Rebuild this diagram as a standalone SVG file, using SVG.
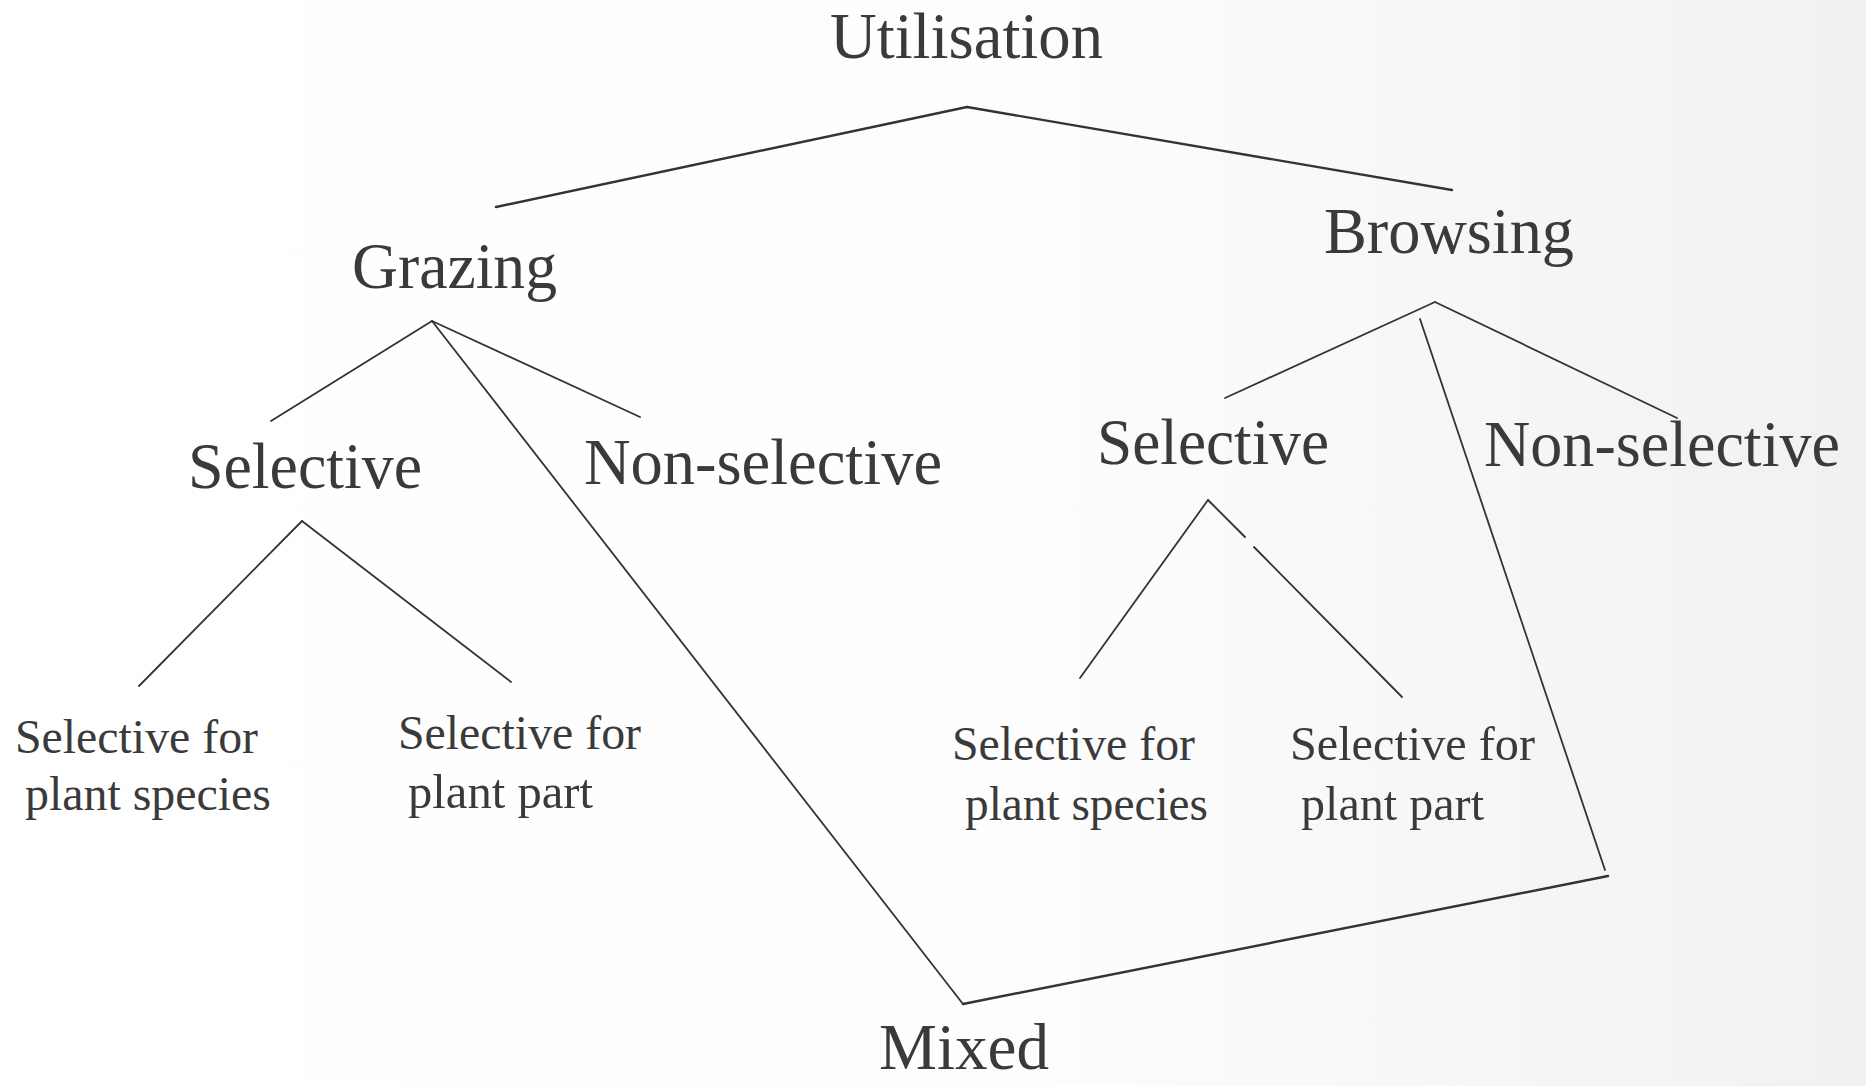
<svg xmlns="http://www.w3.org/2000/svg" width="1866" height="1086" viewBox="0 0 1866 1086">
<defs>
<linearGradient id="bg" x1="0" y1="0" x2="1" y2="0">
<stop offset="0" stop-color="#ffffff"/>
<stop offset="0.55" stop-color="#fdfdfd"/>
<stop offset="1" stop-color="#f1f1f1"/>
</linearGradient>
</defs>
<style>
text{font-family:"Liberation Serif","Times New Roman",serif;fill:#3a3a3a}
.big{font-size:65px}
.leaf{font-size:48px}
#connectors line{stroke:#333;stroke-width:1.8;fill:none;stroke-linecap:round}
#connectors .thick{stroke-width:2.4}
</style>
<rect width="1866" height="1086" fill="url(#bg)"/>
<g id="connectors">
<line class="thick" x1="967" y1="107" x2="496" y2="207"/>
<line class="thick" x1="967" y1="107" x2="1452" y2="190"/>
<line x1="432" y1="321" x2="271" y2="421"/>
<line x1="432" y1="321" x2="640" y2="417"/>
<line x1="432" y1="321" x2="963" y2="1004"/>
<line x1="302" y1="521" x2="139" y2="686"/>
<line x1="302" y1="521" x2="511" y2="682"/>
<line x1="1435" y1="302" x2="1225" y2="398"/>
<line x1="1435" y1="302" x2="1677" y2="418"/>
<line x1="1420" y1="319" x2="1605" y2="870"/>
<line class="thick" x1="963" y1="1004" x2="1608" y2="876"/>
<line x1="1208" y1="500" x2="1080" y2="678"/>
<line x1="1208" y1="500" x2="1245" y2="537"/>
<line x1="1254" y1="547" x2="1402" y2="697"/>
</g>
<g id="utilisation"><text class="big" x="830" y="58" textLength="273" lengthAdjust="spacingAndGlyphs">Utilisation</text></g>
<g id="grazing"><text class="big" x="352" y="288" textLength="205" lengthAdjust="spacingAndGlyphs">Grazing</text></g>
<g id="browsing"><text class="big" x="1324" y="253" textLength="250" lengthAdjust="spacingAndGlyphs">Browsing</text></g>
<g id="grazing-selective"><text class="big" x="188" y="488" textLength="234" lengthAdjust="spacingAndGlyphs">Selective</text></g>
<g id="grazing-nonselective"><text class="big" x="584" y="484" textLength="358" lengthAdjust="spacingAndGlyphs">Non-selective</text></g>
<g id="browsing-selective"><text class="big" x="1097" y="464" textLength="232" lengthAdjust="spacingAndGlyphs">Selective</text></g>
<g id="browsing-nonselective"><text class="big" x="1484" y="466" textLength="356" lengthAdjust="spacingAndGlyphs">Non-selective</text></g>
<g id="mixed"><text class="big" x="879" y="1069" textLength="170" lengthAdjust="spacingAndGlyphs">Mixed</text></g>
<g id="g-species">
<text class="leaf" x="15" y="753" textLength="243" lengthAdjust="spacingAndGlyphs">Selective for</text>
<text class="leaf" x="25" y="810" textLength="246" lengthAdjust="spacingAndGlyphs">plant species</text>
</g>
<g id="g-part">
<text class="leaf" x="398" y="749" textLength="243" lengthAdjust="spacingAndGlyphs">Selective for</text>
<text class="leaf" x="408" y="808" textLength="185" lengthAdjust="spacingAndGlyphs">plant part</text>
</g>
<g id="b-species">
<text class="leaf" x="952" y="760" textLength="243" lengthAdjust="spacingAndGlyphs">Selective for</text>
<text class="leaf" x="965" y="820" textLength="243" lengthAdjust="spacingAndGlyphs">plant species</text>
</g>
<g id="b-part">
<text class="leaf" x="1290" y="760" textLength="245" lengthAdjust="spacingAndGlyphs">Selective for</text>
<text class="leaf" x="1301" y="820" textLength="183" lengthAdjust="spacingAndGlyphs">plant part</text>
</g>
</svg>
